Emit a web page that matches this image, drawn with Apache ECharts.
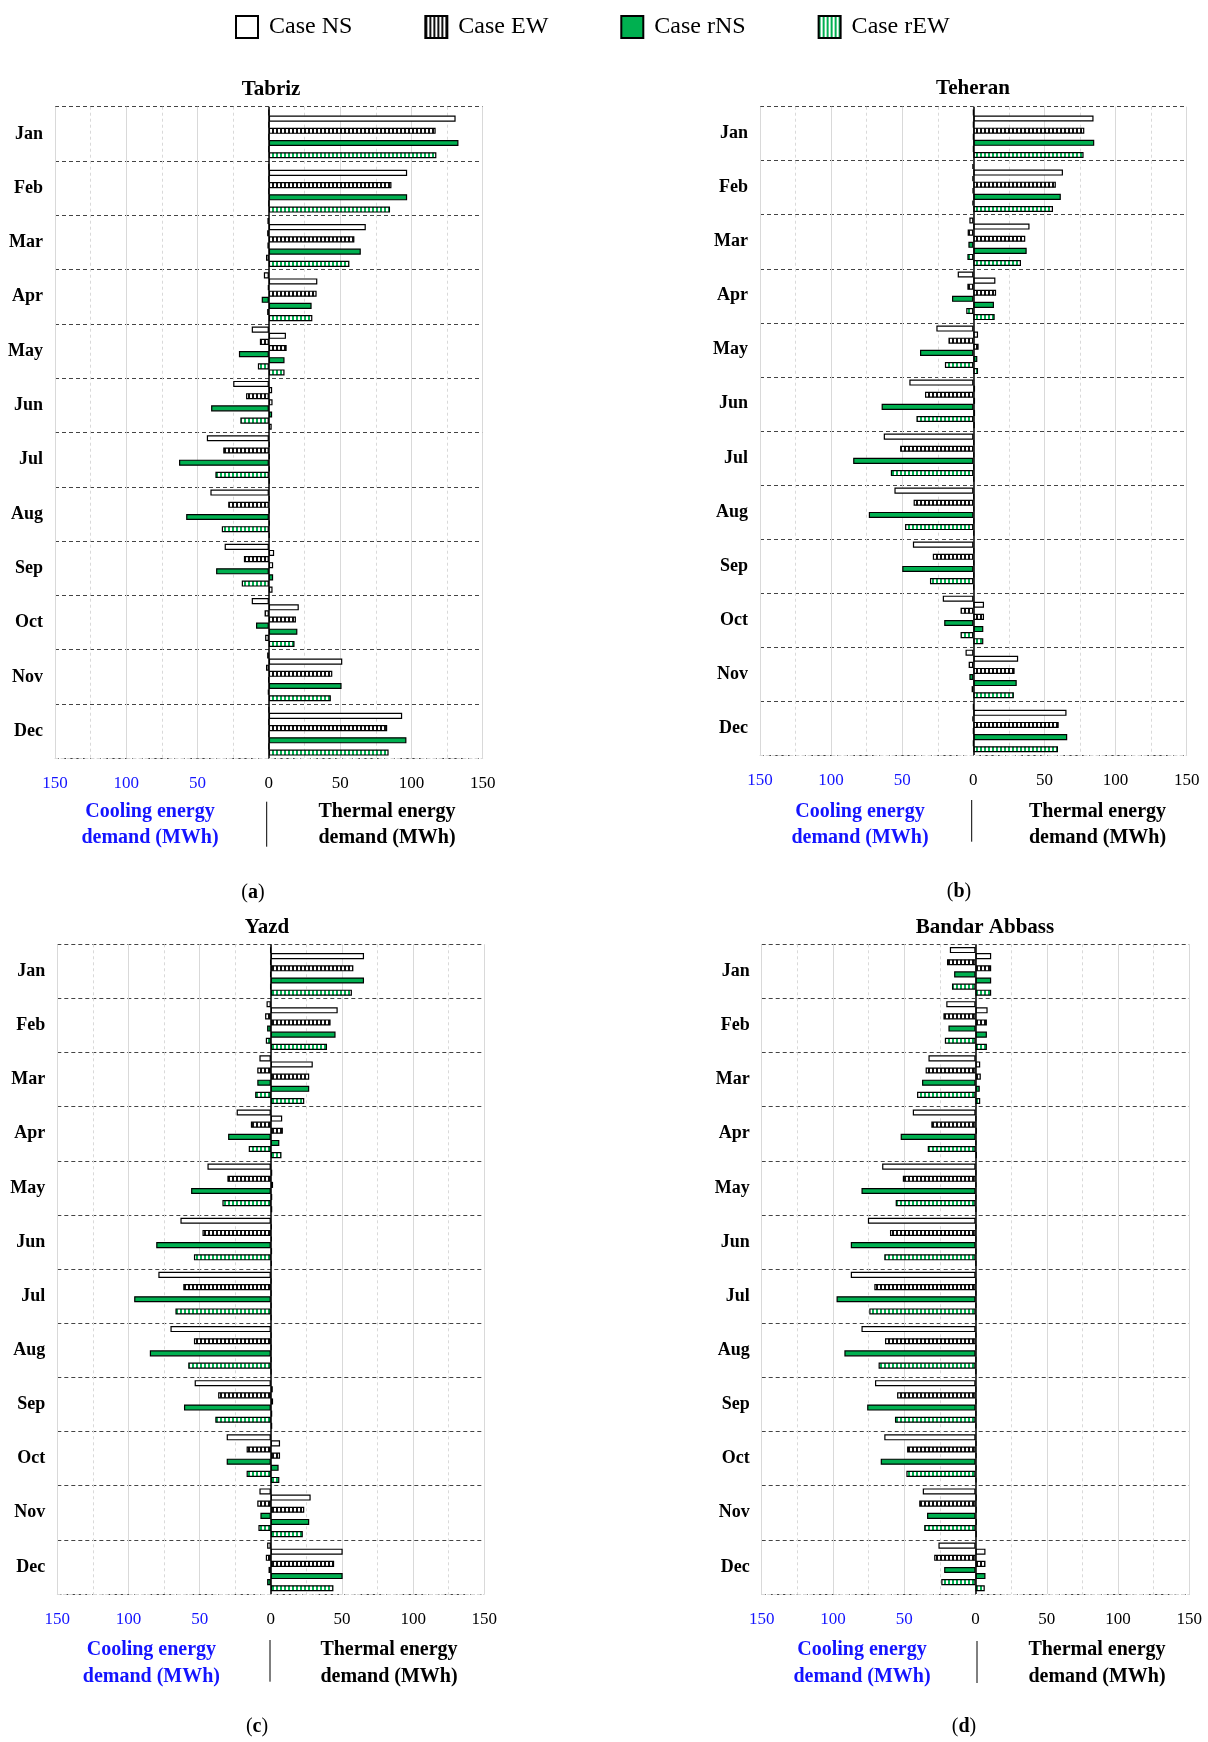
<!DOCTYPE html>
<html>
<head>
<meta charset="utf-8">
<script src="https://cdn.jsdelivr.net/npm/echarts@6/dist/echarts.min.js"></script>
<style>html,body{margin:0;padding:0;background:#fff}#c{width:1208px;height:1742px}</style>
</head>
<body>
<div id="c"></div>
<script>
// ---------- data ----------
const months = ['Jan','Feb','Mar','Apr','May','Jun','Jul','Aug','Sep','Oct','Nov','Dec'];
const cases = ['Case NS','Case EW','Case rNS','Case rEW'];
const cities = ['Tabriz','Teheran','Yazd','Bandar Abbass'];
const panelTags = ['a','b','c','d'];

// Thermal (heating) energy demand, MWh
const tabrizHeatNS  = [131, 97, 68, 34, 12, 2.3, 0.6, 0.6, 3.7, 21, 51.5, 93.5];
const tabrizHeatEW  = [117, 86, 60, 33.5, 12.5, 2.6, 0.6, 0.6, 3, 19, 44.5, 83];
const tabrizHeatRNS = [133, 97, 64.5, 30, 11, 2.3, 0.6, 0.6, 3, 20, 51, 96.5];
const tabrizHeatREW = [117.5, 85, 56.5, 30.5, 11, 2, 0.6, 0.6, 2.6, 18, 43.5, 84];
// Cooling energy demand, MWh (drawn to the left)
const tabrizCoolNS  = [0, 0, 1, 3.5, 12, 25, 43.5, 41, 31, 12, 1.2, 0];
const tabrizCoolEW  = [0, 0, 1.2, 0.7, 6.3, 16, 32, 28.5, 17.5, 3, 2, 0];
const tabrizCoolRNS = [0, 0, 1, 5, 21, 40.5, 63, 58, 37, 9, 0.3, 0];
const tabrizCoolREW = [0, 0, 2, 1.2, 7.7, 20, 37.5, 33, 19, 2.6, 0.7, 0];

const teheranHeatNS  = [84.5, 63, 39.5, 15.5, 3.3, 1.2, 0.5, 0.5, 0.5, 7.5, 31.5, 65.5];
const teheranHeatEW  = [78, 58, 36.5, 16, 3.7, 1.2, 0.5, 0.5, 0.5, 7.5, 29, 60];
const teheranHeatRNS = [85, 61.5, 37.5, 14.5, 2.8, 1.2, 0.5, 0.5, 0.5, 7, 30.5, 66];
const teheranHeatREW = [77.5, 56, 33.5, 15, 3.3, 1, 0.5, 0.5, 0.5, 7, 28.5, 59.5];
const teheranCoolNS  = [0, 0.7, 2.8, 11, 26, 45, 63, 55.5, 42.5, 21.5, 5.5, 0];
const teheranCoolEW  = [0, 0.7, 4, 4.2, 17.5, 34, 51.5, 42, 28.5, 9, 3.3, 0.7];
const teheranCoolRNS = [0, 0.5, 3.5, 15, 37.5, 64.5, 84.5, 73.5, 50, 20.5, 2.8, 0];
const teheranCoolREW = [0, 0.7, 4.2, 5, 20, 40, 58, 48, 30.5, 9, 1.2, 0];

const yazdHeatNS  = [65.5, 47, 29.5, 8, 1, 0.7, 0.3, 0.3, 1.4, 6.5, 28, 50.5];
const yazdHeatEW  = [58, 42, 27, 8.5, 1.6, 0.7, 0.3, 0.3, 1.6, 6.5, 23.5, 44.5];
const yazdHeatRNS = [65.5, 45.5, 27, 6, 1, 0.9, 0.3, 0.3, 1, 5.5, 27, 50.5];
const yazdHeatREW = [57, 39.5, 23.5, 7.5, 1, 0.7, 0.3, 0.3, 1, 6, 22.5, 44];
const yazdCoolNS  = [0.3, 3, 8, 24, 44.5, 63.5, 79, 70.5, 53.5, 31, 8, 2.6];
const yazdCoolEW  = [0.3, 4, 9.5, 14, 30.5, 48, 61.5, 54, 37, 17, 9.5, 3.5];
const yazdCoolRNS = [0.3, 2.6, 9.5, 30, 56, 80.5, 96, 85, 61, 31, 7.3, 1.6];
const yazdCoolREW = [0.3, 3.5, 11, 15.5, 34, 54, 67, 58, 39, 17, 8.7, 2.6];

const bandarHeatNS  = [11, 8.5, 3.3, 0.5, 0.5, 0.5, 0.5, 0.5, 0.5, 0.7, 0.9, 7];
const bandarHeatEW  = [11, 8, 3.7, 1, 0.5, 0.5, 0.5, 0.5, 0.5, 0.7, 0.9, 7];
const bandarHeatRNS = [11, 8, 3, 0.5, 0.5, 0.5, 0.5, 0.5, 0.5, 0.7, 0.9, 7];
const bandarHeatREW = [11, 8, 3.3, 1, 0.5, 0.5, 0.5, 0.5, 0.5, 0.7, 0.9, 6.5];
const bandarCoolNS  = [18, 20.5, 33, 44, 65.5, 75.5, 87.5, 80, 70.5, 64, 37, 26];
const bandarCoolEW  = [20, 22.5, 35, 31, 51, 60, 71, 63.5, 55, 48, 39.5, 29];
const bandarCoolRNS = [15, 19, 37.5, 52.5, 80, 87.5, 97.5, 92, 76, 66.5, 34, 22];
const bandarCoolREW = [16.5, 21.5, 41, 33.5, 56, 64, 74.5, 68, 56.5, 48.5, 36, 24];

const xTicks = [-150, -100, -50, 0, 50, 100, 150];

// ---------- assembly ----------
const heat = [
  [tabrizHeatNS, tabrizHeatEW, tabrizHeatRNS, tabrizHeatREW],
  [teheranHeatNS, teheranHeatEW, teheranHeatRNS, teheranHeatREW],
  [yazdHeatNS, yazdHeatEW, yazdHeatRNS, yazdHeatREW],
  [bandarHeatNS, bandarHeatEW, bandarHeatRNS, bandarHeatREW]
];
const cool = [
  [tabrizCoolNS, tabrizCoolEW, tabrizCoolRNS, tabrizCoolREW],
  [teheranCoolNS, teheranCoolEW, teheranCoolRNS, teheranCoolREW],
  [yazdCoolNS, yazdCoolEW, yazdCoolRNS, yazdCoolREW],
  [bandarCoolNS, bandarCoolEW, bandarCoolRNS, bandarCoolREW]
];

const FONT = 'Liberation Serif';
const GREEN = '#00B050';
const BLUE = '#1414ff';

function stripes(c1, c2) {
  const cv = document.createElement('canvas');
  cv.width = 4; cv.height = 4;
  const ctx = cv.getContext('2d');
  ctx.fillStyle = c2; ctx.fillRect(0, 0, 4, 4);
  ctx.fillStyle = c1; ctx.fillRect(0, 0, 2, 4);
  return {image: cv, repeat: 'repeat'};
}
const fills = ['#ffffff', stripes('#111111', '#ffffff'), GREEN, stripes(GREEN, '#ffffff')];

const layout = [
  {grid: {left: 55, top: 106.7, width: 427.7, height: 651.6}, title: [271, 90], cool: 150, therm: 387, div: 266.7, tag: 253, l1: 811.7, l2: 838, d1: 801.7, d2: 846.7, ty: 893},
  {grid: {left: 760, top: 106.7, width: 426.7, height: 648.3}, title: [973, 89], cool: 860, therm: 1097.5, div: 971.7, tag: 959, l1: 811.7, l2: 838.3, d1: 800, d2: 841.7, ty: 891.7},
  {grid: {left: 57.3, top: 944.3, width: 427, height: 649.7}, title: [267, 927.7], cool: 151.4, therm: 389, div: 270, tag: 257, l1: 1650, l2: 1676.7, d1: 1640, d2: 1681.7, ty: 1726.7},
  {grid: {left: 761.7, top: 944.3, width: 427.6, height: 649.7}, title: [985, 927.7], cool: 862, therm: 1097, div: 977, tag: 964, l1: 1650, l2: 1677, d1: 1641, d2: 1683, ty: 1727}
];

const grid = [], xAxis = [], yAxis = [], series = [], graphic = [];
layout.forEach((L, g) => {
  grid.push(Object.assign({containLabel: false}, L.grid));
  xAxis.push({
    gridIndex: g, type: 'value', min: xTicks[0], max: xTicks[xTicks.length - 1], interval: xTicks[1] - xTicks[0],
    axisLine: {show: true, lineStyle: {color: '#d9d9d9', type: [3, 3]}},
    axisTick: {show: false},
    axisLabel: {margin: 17, fontFamily: FONT, fontSize: 17,
      formatter: v => String(Math.abs(v)),
      color: v => (Number(v) < 0 ? BLUE : '#000')},
    splitLine: {show: true, lineStyle: {color: '#d9d9d9', width: 1}},
    minorTick: {show: false, splitNumber: 2},
    minorSplitLine: {show: true, lineStyle: {color: '#d9d9d9', width: 1, type: [3, 3]}}
  });
  yAxis.push({
    gridIndex: g, type: 'category', data: months, inverse: true,
    axisLine: {show: false, onZero: false}, axisTick: {show: false},
    axisLabel: {margin: 12, fontFamily: FONT, fontWeight: 'bold', fontSize: 18, color: '#000'},
    splitLine: {show: true, interval: (i) => i !== months.length, lineStyle: {color: '#444', width: 1.2, type: [4, 3]}}
  });
  cases.forEach((name, k) => {
    const base = {
      type: 'bar', name, xAxisIndex: g, yAxisIndex: g,
      barGap: '0%', barCategoryGap: '10%',
      itemStyle: {color: fills[k], borderColor: '#000', borderWidth: 1.2},
      emphasis: {disabled: true}, silent: true, animation: false
    };
    const c = Object.assign({}, base, {data: cool[g][k].map(v => -v)});
    if (k === 0) {
      c.markLine = {silent: true, symbol: 'none', label: {show: false},
        lineStyle: {color: '#000', type: 'solid', width: 1.5}, data: [{xAxis: 0}], animation: false};
    }
    series.push(c);
    series.push(Object.assign({}, base, {data: heat[g][k]}));
  });
  // texts
  graphic.push({type: 'text', x: L.title[0], y: L.title[1], style: {text: cities[g], font: 'bold 21px "' + FONT + '"', fill: '#000', align: 'center', verticalAlign: 'middle'}});
  graphic.push({type: 'text', x: L.cool, y: L.l1, style: {text: 'Cooling energy', font: 'bold 20px "' + FONT + '"', fill: BLUE, align: 'center', verticalAlign: 'middle'}});
  graphic.push({type: 'text', x: L.cool, y: L.l2, style: {text: 'demand (MWh)', font: 'bold 20px "' + FONT + '"', fill: BLUE, align: 'center', verticalAlign: 'middle'}});
  graphic.push({type: 'text', x: L.therm, y: L.l1, style: {text: 'Thermal energy', font: 'bold 20px "' + FONT + '"', fill: '#000', align: 'center', verticalAlign: 'middle'}});
  graphic.push({type: 'text', x: L.therm, y: L.l2, style: {text: 'demand (MWh)', font: 'bold 20px "' + FONT + '"', fill: '#000', align: 'center', verticalAlign: 'middle'}});
  graphic.push({type: 'line', shape: {x1: L.div, y1: L.d1, x2: L.div, y2: L.d2}, style: {stroke: '#000', lineWidth: 1}});
  graphic.push({type: 'text', x: L.tag, y: L.ty, style: {text: '({b|' + panelTags[g] + '})', font: '20px "' + FONT + '"', fill: '#000', align: 'center', verticalAlign: 'middle',
    rich: {b: {fontWeight: 'bold', fontSize: 20, fontFamily: FONT}}}});
});

const chart = echarts.init(document.getElementById('c'), null, {renderer: 'canvas'});
chart.setOption({
  backgroundColor: '#fff',
  animation: false,
  legend: {
    data: cases, left: 230, top: 10, itemWidth: 22, itemHeight: 22, itemGap: 72, icon: 'rect',
    selectedMode: false,
    itemStyle: {borderColor: '#000', borderWidth: 2},
    textStyle: {fontFamily: FONT, fontSize: 24, color: '#000', padding: [0, 0, 0, 6]}
  },
  grid, xAxis, yAxis, series, graphic
});
</script>
</body>
</html>
